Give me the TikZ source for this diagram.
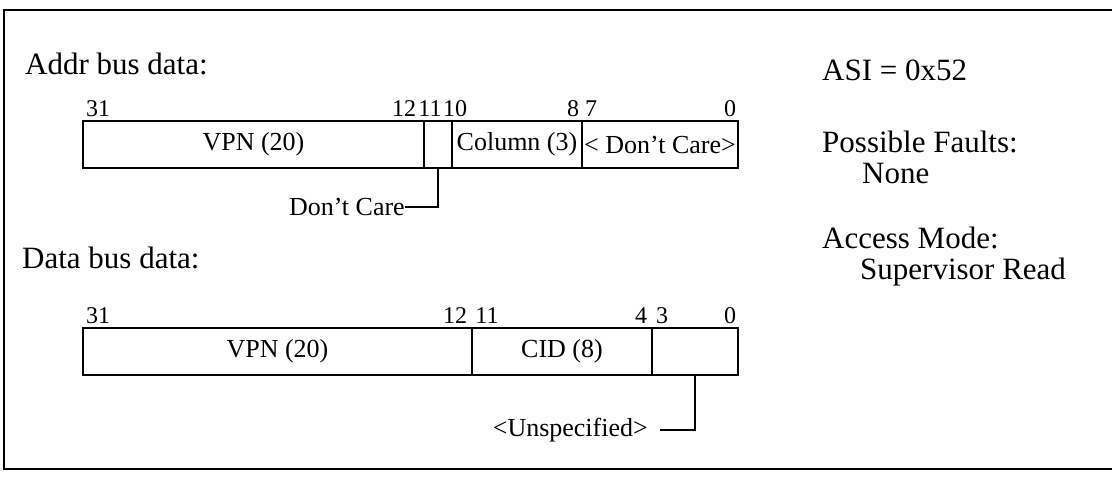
\documentclass[tikz,border=0pt]{standalone}
\usepackage{fontspec}
\setmainfont{Liberation Serif}
\begin{document}
\begin{tikzpicture}[x=1pt,y=-1pt,
  frame/.style={line width=2.4pt},
  field/.style={draw,line width=2.4pt,inner sep=0pt,minimum height=47pt,
    font=\fontsize{26}{30}\selectfont},
  bitlbl/.style={inner sep=0pt,anchor=base,font=\fontsize{24}{28}\selectfont},
  biglbl/.style={inner sep=0pt,anchor=base west,font=\fontsize{31}{36}\selectfont},
  note/.style={inner sep=0pt,font=\fontsize{26}{30}\selectfont},
  conn/.style={line width=2.4pt}]
\useasboundingbox (0,0) rectangle (1112,477);
% outer frame
\draw[frame] (1112,10) -- (4,10) -- (4,469) -- (1112,469);

% headings
\node[biglbl] (addr) at (25,74) {Addr bus data:};
\node[biglbl] (data) at (22,268) {Data bus data:};

% right column
\node[biglbl] (asi) at (822,80) {ASI = 0x52};
\node[biglbl] (pf) at (822,152) {Possible Faults:};
\node[biglbl] (pfv) at (862,183) {None};
\node[biglbl] (am) at (822,248) {Access Mode:};
\node[biglbl] (amv) at (860,279) {Supervisor Read};

% address register
\node[field,minimum width=341pt] (a1) at (253.5,144.5) {VPN (20)};
\node[field,minimum width=28pt] (a2) at (438,144.5) {};
\node[field,minimum width=130pt] (a3) at (517,144.5) {Column (3)};
\node[field,minimum width=156pt] (a4) at (660,144.5) {< Don't Care>};

\node[bitlbl] (ab31) at (98,116) {31};
\node[bitlbl] (ab12) at (404,116) {12};
\node[bitlbl] (ab11) at (430,116) {11};
\node[bitlbl] (ab10) at (455,116) {10};
\node[bitlbl] (ab8) at (573,116) {8};
\node[bitlbl] (ab7) at (591,116) {7};
\node[bitlbl] (ab0) at (730,116) {0};

\node[note,anchor=east] (dc) at (405,207) {Don't Care};
\draw[conn] (a2.south) |- (dc.east);

% data register
\node[field,minimum width=389pt] (d1) at (277.5,351.5) {VPN (20)};
\node[field,minimum width=180pt] (d2) at (562,351.5) {CID (8)};
\node[field,minimum width=86pt] (d3) at (695,351.5) {};

\node[bitlbl] (db31) at (98,323) {31};
\node[bitlbl] (db12) at (455,323) {12};
\node[bitlbl] (db11) at (487,323) {11};
\node[bitlbl] (db4) at (641,323) {4};
\node[bitlbl] (db3) at (662,323) {3};
\node[bitlbl] (db0) at (730,323) {0};

\node[note,anchor=east] (us) at (648,430) {<Unspecified>};
\coordinate (usend) at (660,430);
\draw[conn] (d3.south) |- (usend);
\end{tikzpicture}
\end{document}
